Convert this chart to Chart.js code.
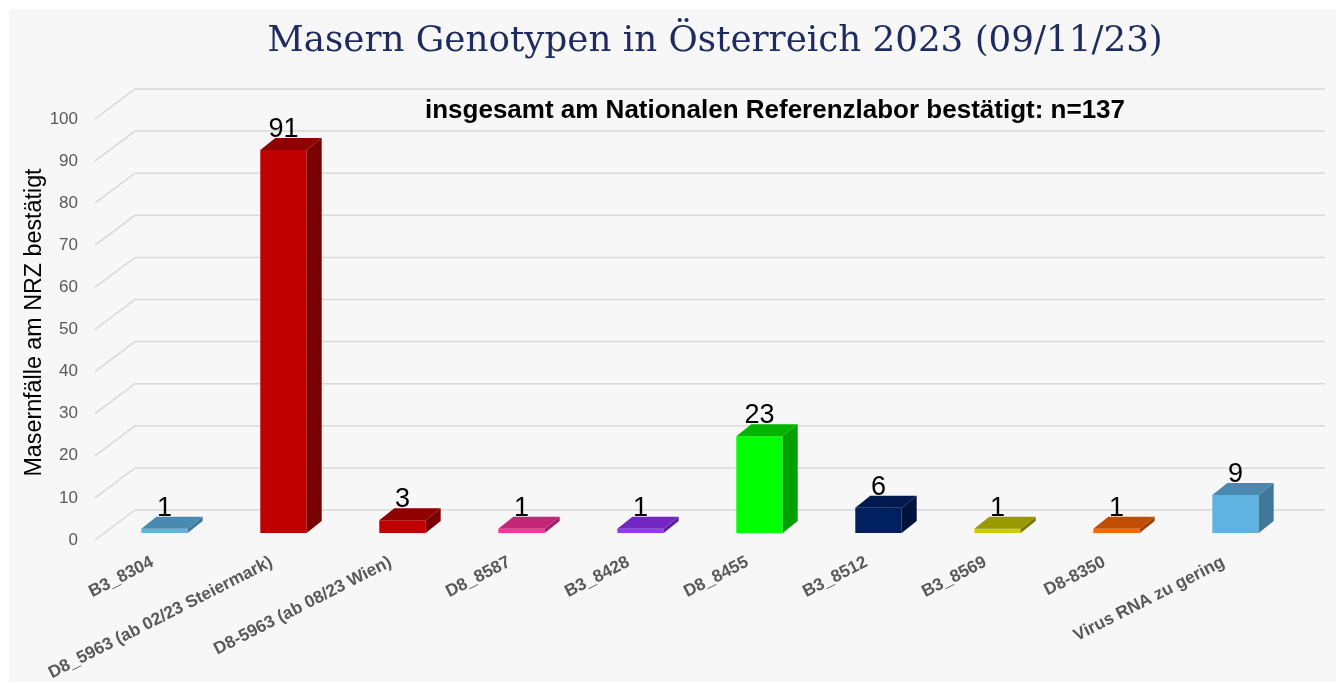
<!DOCTYPE html>
<html lang="de">
<head>
  <meta charset="UTF-8" />
  <title>Masern Genotypen in Österreich 2023</title>
  <script src="https://cdn.jsdelivr.net/npm/chart.js"></script>
  <style>
    html, body { margin: 0; padding: 0; background: #ffffff; }
    #wrap { width: 1341px; height: 682px; }
  </style>
</head>
<body>
<div id="wrap"><canvas id="genoChart"></canvas></div>
<script>
// data
const genotypes = ['B3_8304', 'D8_5963 (ab 02/23 Steiermark)', 'D8-5963 (ab 08/23 Wien)', 'D8_8587',
  'B3_8428', 'D8_8455', 'B3_8512', 'B3_8569', 'D8-8350', 'Virus RNA zu gering'];
const cases = [1, 91, 3, 1, 1, 23, 6, 1, 1, 9];
const yTicks = [0, 10, 20, 30, 40, 50, 60, 70, 80, 90, 100];

// bar colours: front, top, side
const frontCol = ['#5eb3e1', '#c00000', '#c00000', '#ff3399', '#9933ff', '#00ff00', '#002060', '#cccc00', '#ff6600', '#5eb3e1'];
const topCol   = ['#4a8ab1', '#8f0000', '#8f0000', '#c4267a', '#7326c4', '#00b400', '#001a4d', '#999900', '#c04d00', '#4a8ab1'];
const sideCol  = ['#3f7898', '#7a0000', '#7a0000', '#a01f64', '#5d1f9f', '#00a000', '#00133d', '#7a7a00', '#a04000', '#3f7898'];

const DX = 15, DY = 12; // bar depth

const bgPlugin = {
  id: 'bg',
  beforeDraw(chart) {
    const ctx = chart.ctx;
    ctx.save();
    ctx.fillStyle = '#ffffff';
    ctx.fillRect(0, 0, chart.width, chart.height);
    ctx.fillStyle = '#f7f7f7';
    ctx.fillRect(9, 9, chart.width - 14, chart.height - 9);
    ctx.restore();
  },
  beforeDatasetsDraw(chart) {
    // back wall + side wall grid lines
    const ctx = chart.ctx, y = chart.scales.y, area = chart.chartArea;
    ctx.save();
    ctx.strokeStyle = '#d9d9d9';
    ctx.lineWidth = 1.5;
    yTicks.forEach(v => {
      const py = y.getPixelForValue(v);
      ctx.beginPath();
      ctx.moveTo(area.left - 10, py + 7);
      ctx.lineTo(area.left + 30, py - 23);
      ctx.lineTo(area.right + 30, py - 23);
      ctx.stroke();
    });
    ctx.restore();
  },
  afterDatasetsDraw(chart) {
    const ctx = chart.ctx;
    const meta = chart.getDatasetMeta(0);
    ctx.save();
    meta.data.forEach((bar, i) => {
      const x0 = bar.x - bar.width / 2, x1 = bar.x + bar.width / 2;
      const top = bar.y, base = bar.base;
      // side
      ctx.fillStyle = sideCol[i];
      ctx.beginPath();
      ctx.moveTo(x1, top); ctx.lineTo(x1 + DX, top - DY);
      ctx.lineTo(x1 + DX, base - DY); ctx.lineTo(x1, base);
      ctx.closePath(); ctx.fill();
      // top
      ctx.fillStyle = topCol[i];
      ctx.beginPath();
      ctx.moveTo(x0, top); ctx.lineTo(x0 + DX, top - DY);
      ctx.lineTo(x1 + DX, top - DY); ctx.lineTo(x1, top);
      ctx.closePath(); ctx.fill();
      // value
      ctx.fillStyle = '#000000';
      ctx.font = '27px "Liberation Sans", Arial, sans-serif';
      ctx.textAlign = 'center';
      ctx.textBaseline = 'alphabetic';
      ctx.fillText(String(cases[i]), bar.x, top - 13);
    });

    // titles
    ctx.fillStyle = '#1f2b5e';
    ctx.font = '35.7px "DejaVu Serif", Georgia, serif';
    ctx.textAlign = 'center';
    ctx.textBaseline = 'middle';
    ctx.fillText('Masern Genotypen in Österreich 2023 (09/11/23)', 715, 42);

    ctx.fillStyle = '#000000';
    ctx.font = 'bold 26px "Liberation Sans", Arial, sans-serif';
    ctx.fillText('insgesamt am Nationalen Referenzlabor bestätigt: n=137', 775, 111);
    ctx.restore();
  }
};

new Chart(document.getElementById('genoChart'), {
  type: 'bar',
  data: {
    labels: genotypes,
    datasets: [{
      label: 'Masernfälle',
      data: cases,
      backgroundColor: frontCol,
      borderWidth: 0,
      categoryPercentage: 1,
      barPercentage: 0.39
    }]
  },
  options: {
    responsive: true,
    maintainAspectRatio: false,
    animation: false,
    layout: { padding: { left: 10, right: 46, top: 112, bottom: 0 } },
    plugins: {
      legend: { display: false },
      tooltip: { enabled: false }
    },
    scales: {
      x: {
        grid: { display: false },
        border: { display: false },
        ticks: {
          minRotation: 27,
          maxRotation: 27,
          labelOffset: -12,
          padding: 11,
          color: '#595959',
          font: { family: '"Liberation Sans", Arial, sans-serif', size: 17.3, weight: 'bold' }
        },
        afterFit(scale) { scale.height = 149; }
      },
      y: {
        min: 0,
        max: 100,
        grid: { display: false },
        border: { display: false },
        afterBuildTicks(scale) { scale.ticks = yTicks.map(v => ({ value: v })); },
        ticks: {
          padding: 19,
          labelOffset: 7,
          color: '#595959',
          font: { family: '"Liberation Sans", Arial, sans-serif', size: 17 }
        },
        title: {
          display: true,
          text: 'Masernfälle am NRZ bestätigt',
          color: '#000000',
          padding: { top: 11, bottom: 0 },
          font: { family: '"Liberation Sans", Arial, sans-serif', size: 23.3 }
        },
        afterFit(scale) { scale.width = 95; }
      }
    }
  },
  plugins: [bgPlugin]
});
</script>
</body>
</html>
